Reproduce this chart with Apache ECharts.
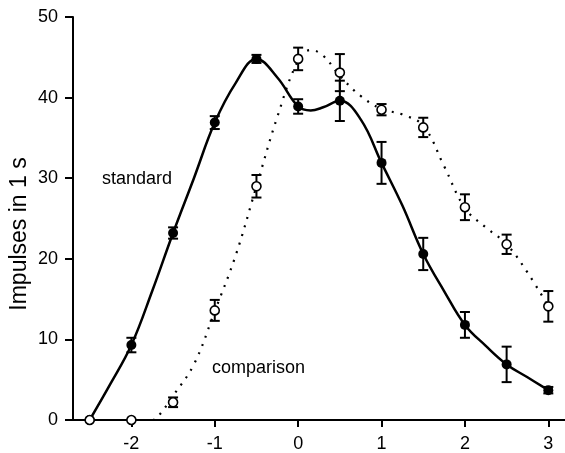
<!DOCTYPE html>
<html>
<head>
<meta charset="utf-8">
<script src="https://cdn.jsdelivr.net/npm/echarts@6/dist/echarts.min.js"></script>
<style>
  html, body { margin: 0; padding: 0; background: #fff; }
  #chart { width: 565px; height: 453px; }
</style>
</head>
<body>
<div id="chart"></div>
<script>
// Stimulus positions along the x axis
const positions = [-2.5, -2, -1.5, -1, -0.5, 0, 0.5, 1, 1.5, 2, 2.5, 3];

// Mean firing for the standard stimulus and its error (+/-)
const standardMean = [0, 9.3, 23.2, 36.9, 44.8, 38.9, 39.6, 31.9, 20.6, 11.8, 6.9, 3.7];
const standardErr  = [0, 0.9, 0.7, 0.8, 0.5, 0.9, 2.5, 2.6, 2.0, 1.6, 2.2, 0.4];

// Mean firing for the comparison stimulus and its error (+/-)
const comparisonMean = [0, 0, 2.2, 13.6, 29.0, 44.8, 43.1, 38.5, 36.3, 26.4, 21.8, 14.1];
const comparisonErr  = [0, 0, 0.6, 1.3, 1.4, 1.4, 2.3, 0.7, 1.2, 1.6, 1.2, 1.9];

// Fitted curve for the standard stimulus (solid line)
const standardCurveX = [-2.5, -2.25, -2, -1.75, -1.5, -1.25, -1, -0.75, -0.5, -0.25, 0, 0.15, 0.3, 0.5, 0.75, 1, 1.25, 1.5, 1.75, 2, 2.25, 2.5, 2.75, 3];
const standardCurveY = [0, 4.5, 9.3, 16.0, 23.2, 30.0, 36.9, 41.8, 44.8, 42.5, 38.9, 38.4, 38.8, 39.6, 37.3, 31.9, 26.6, 20.6, 16.0, 11.8, 9.2, 6.9, 5.3, 3.7];

// Fitted curve for the comparison stimulus (dotted line)
const comparisonCurveX = [-2.5, -2, -1.75, -1.66, -1.5, -1.25, -1, -0.75, -0.5, -0.25, 0, 0.15, 0.3, 0.5, 0.75, 1, 1.25, 1.5, 1.75, 2, 2.25, 2.5, 2.75, 3];
const comparisonCurveY = [0, 0, 0, 0.7, 3.0, 6.9, 13.5, 20.4, 29.0, 37.6, 44.6, 45.9, 45.2, 42.7, 40.2, 38.6, 37.9, 36.5, 31.5, 26.3, 23.9, 21.8, 18.3, 14.1];

// Tick labels
const xTicks = [-2, -1, 0, 1, 2, 3];
const yTicks = [0, 10, 20, 30, 40, 50];

const FONT = 'Liberation Sans, Arial, Helvetica, sans-serif';

function pairs(xs, ys) {
  return xs.map((x, i) => [x, ys[i]]);
}
function errorRows(xs, ys, es) {
  const rows = [];
  xs.forEach((x, i) => {
    if (es[i] > 0) rows.push([x, ys[i] - es[i], ys[i] + es[i]]);
  });
  return rows;
}

// Vertical error bar with short horizontal caps
function renderErrorBar(params, api) {
  const x = api.value(0);
  const lo = api.coord([x, api.value(1)]);
  const hi = api.coord([x, api.value(2)]);
  const half = 5;
  const style = { stroke: '#000', lineWidth: 2 };
  return {
    type: 'group',
    children: [
      { type: 'line', shape: { x1: hi[0], y1: hi[1], x2: lo[0], y2: lo[1] }, style },
      { type: 'line', shape: { x1: hi[0] - half, y1: hi[1], x2: hi[0] + half, y2: hi[1] }, style },
      { type: 'line', shape: { x1: lo[0] - half, y1: lo[1], x2: lo[0] + half, y2: lo[1] }, style }
    ]
  };
}

const chart = echarts.init(document.getElementById('chart'), null, { renderer: 'canvas' });

chart.setOption({
  animation: false,
  backgroundColor: '#fff',
  grid: { left: 73, right: 0, top: 17, bottom: 32 },
  xAxis: {
    type: 'value',
    min: -2.7,
    max: 3.2,
    splitLine: { show: false },
    axisLine: { onZero: false, lineStyle: { color: '#000', width: 2 } },
    axisTick: { customValues: xTicks, length: 7, lineStyle: { color: '#000', width: 2 } },
    axisLabel: {
      customValues: xTicks,
      margin: 15,
      color: '#000',
      fontFamily: FONT,
      fontSize: 18
    }
  },
  yAxis: {
    type: 'value',
    min: 0,
    max: 50,
    interval: 10,
    splitLine: { show: false },
    axisLine: { show: true, onZero: false, lineStyle: { color: '#000', width: 2 } },
    axisTick: { show: true, customValues: yTicks, length: 8, lineStyle: { color: '#000', width: 2 } },
    axisLabel: {
      customValues: yTicks,
      margin: 15,
      color: '#000',
      fontFamily: FONT,
      fontSize: 18
    }
  },
  graphic: [
    {
      type: 'text',
      x: 20, y: 234,
      rotation: Math.PI / 2,
      style: {
        text: 'Impulses in 1 s',
        fill: '#000',
        font: '23px ' + FONT,
        align: 'center',
        verticalAlign: 'middle'
      }
    },
    {
      type: 'text',
      x: 102, y: 179,
      style: { text: 'standard', fill: '#000', font: '18px ' + FONT, align: 'left', verticalAlign: 'middle' }
    },
    {
      type: 'text',
      x: 212, y: 368,
      style: { text: 'comparison', fill: '#000', font: '18px ' + FONT, align: 'left', verticalAlign: 'middle' }
    }
  ],
  series: [
    {
      name: 'standard curve',
      type: 'line',
      data: pairs(standardCurveX, standardCurveY),
      smooth: 0.4,
      showSymbol: false,
      symbol: 'none',
      z: 2,
      lineStyle: { color: '#000', width: 2.5 }
    },
    {
      name: 'comparison curve',
      type: 'line',
      data: pairs(comparisonCurveX, comparisonCurveY),
      smooth: 0.4,
      showSymbol: false,
      symbol: 'none',
      z: 2,
      lineStyle: { color: '#000', width: 2.2, type: [2, 7] }
    },
    {
      name: 'standard error',
      type: 'custom',
      renderItem: renderErrorBar,
      data: errorRows(positions, standardMean, standardErr),
      z: 3
    },
    {
      name: 'comparison error',
      type: 'custom',
      renderItem: renderErrorBar,
      data: errorRows(positions, comparisonMean, comparisonErr),
      z: 3
    },
    {
      name: 'standard',
      type: 'scatter',
      data: pairs(positions, standardMean),
      symbol: 'circle',
      symbolSize: 10,
      itemStyle: { color: '#000', opacity: 1 },
      z: 4
    },
    {
      name: 'comparison',
      type: 'scatter',
      data: pairs(positions, comparisonMean),
      symbol: 'circle',
      symbolSize: 9,
      itemStyle: { color: '#fff', borderColor: '#000', borderWidth: 1.6, opacity: 1 },
      z: 5
    }
  ]
});
</script>
</body>
</html>
